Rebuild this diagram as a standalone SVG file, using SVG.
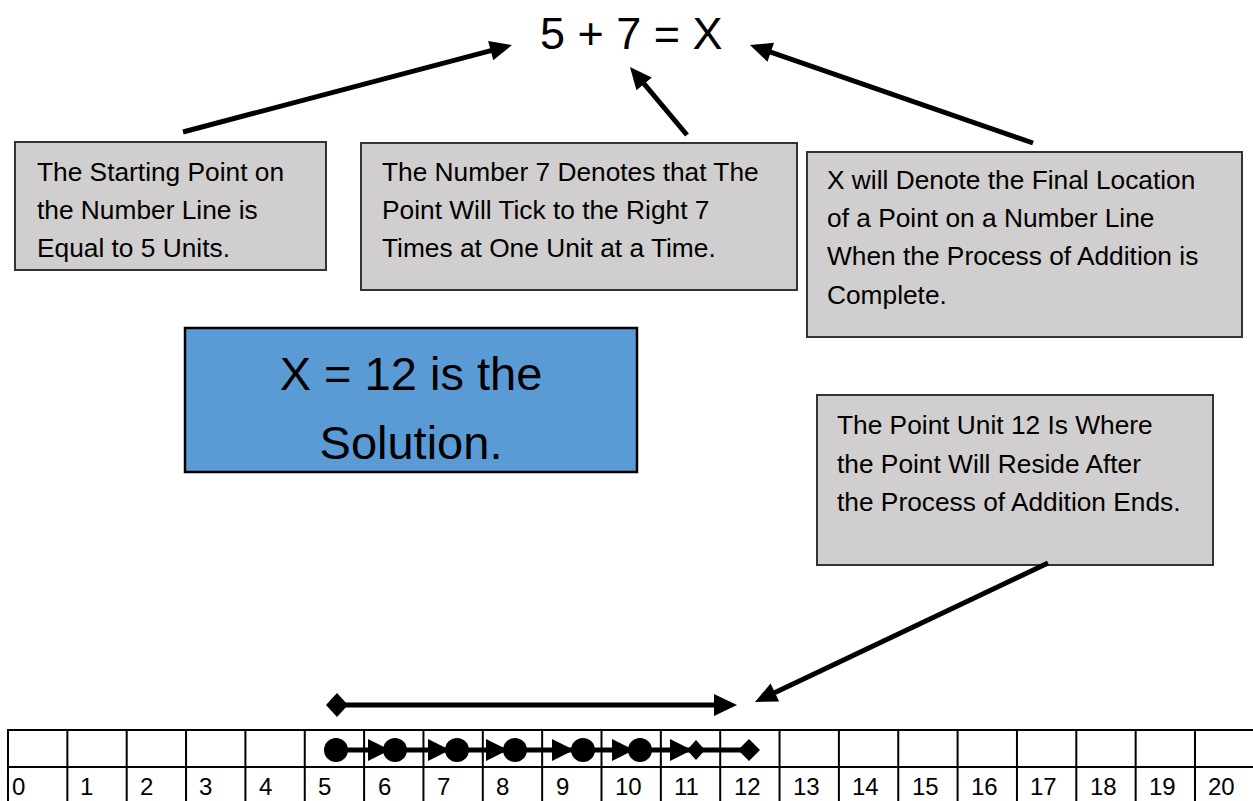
<svg xmlns="http://www.w3.org/2000/svg" width="1253" height="801" viewBox="0 0 1253 801">
<style>
.box{fill:#d0cece;stroke:#333;stroke-width:2}
.sol{fill:#5b9bd5;stroke:#000;stroke-width:2.5}
.t{font-family:"Liberation Sans",Arial,sans-serif;font-size:26.3px;fill:#000}
.big{font-family:"Liberation Sans",Arial,sans-serif;font-size:47px;fill:#000;text-anchor:middle}
.eq{font-family:"Liberation Sans",Arial,sans-serif;font-size:45px;fill:#000}
.num{font-family:"Liberation Sans",Arial,sans-serif;font-size:24px;fill:#000}
.grid line{stroke:#000;stroke-width:2}
.conn{stroke:#000;stroke-width:5;fill:none}
.chain{stroke:#000;stroke-width:5;fill:none}
</style>
<defs>
<marker id="ah" markerUnits="userSpaceOnUse" markerWidth="22" markerHeight="20" refX="12" refY="10" orient="auto" overflow="visible"><path d="M0,0 L22,10 L0,20 z" fill="#000"/></marker>
<marker id="ahb" markerUnits="userSpaceOnUse" markerWidth="23" markerHeight="22" refX="13" refY="11" orient="auto" overflow="visible"><path d="M0,0 L23,11 L0,22 z" fill="#000"/></marker>
<marker id="dia" markerUnits="userSpaceOnUse" markerWidth="22" markerHeight="24" refX="11" refY="12" orient="auto" overflow="visible"><path d="M0,12 L11,0 L22,12 L11,24 z" fill="#000"/></marker>
<marker id="dot" markerUnits="userSpaceOnUse" markerWidth="24" markerHeight="24" refX="12" refY="12" orient="auto" overflow="visible"><circle cx="12" cy="12" r="12" fill="#000"/></marker>
<marker id="tri" markerUnits="userSpaceOnUse" markerWidth="22" markerHeight="22" refX="22" refY="11" orient="auto" overflow="visible"><path d="M0,0 L22,11 L0,22 z" fill="#000"/></marker>
<marker id="sdia" markerUnits="userSpaceOnUse" markerWidth="18" markerHeight="20" refX="9" refY="10" orient="auto" overflow="visible"><path d="M0,10 L9,0 L18,10 L9,20 z" fill="#000"/></marker>
<marker id="bdia" markerUnits="userSpaceOnUse" markerWidth="22" markerHeight="22" refX="11" refY="11" orient="auto" overflow="visible"><path d="M0,11 L11,0 L22,11 L11,22 z" fill="#000"/></marker>
</defs>
<rect width="1253" height="801" fill="#fff"/>

<g id="equation">
<text class="eq" x="540" y="49">5 + 7 = X</text>
</g>

<g id="node-start">
<rect class="box" x="15" y="142" width="311" height="128"/>
<text class="t" x="37" y="181">The Starting Point on</text>
<text class="t" x="37" y="219">the Number Line is</text>
<text class="t" x="37" y="257">Equal to 5 Units.</text>
</g>

<g id="node-seven">
<rect class="box" x="361" y="143" width="436" height="147"/>
<text class="t" x="382" y="181">The Number 7 Denotes that The</text>
<text class="t" x="382" y="219">Point Will Tick to the Right 7</text>
<text class="t" x="382" y="257">Times at One Unit at a Time.</text>
</g>

<g id="node-x">
<rect class="box" x="807" y="152" width="435" height="185"/>
<text class="t" x="827" y="189">X will Denote the Final Location</text>
<text class="t" x="827" y="227">of a Point on a Number Line</text>
<text class="t" x="827" y="265">When the Process of Addition is</text>
<text class="t" x="827" y="304">Complete.</text>
</g>

<g id="node-solution">
<rect class="sol" x="185" y="328" width="452" height="144"/>
<text class="big" x="411" y="390">X = 12 is the</text>
<text class="big" x="411" y="459">Solution.</text>
</g>

<g id="node-point12">
<rect class="box" x="817" y="395" width="396" height="170"/>
<text class="t" x="837" y="434">The Point Unit 12 Is Where</text>
<text class="t" x="837" y="473">the Point Will Reside After</text>
<text class="t" x="837" y="511">the Process of Addition Ends.</text>
</g>

<g id="node-numberline">
<g class="grid">
<line x1="7" y1="730" x2="1260" y2="730"/>
<line x1="7" y1="767" x2="1260" y2="767"/>
<line x1="8" y1="729" x2="8" y2="801"/>
<line x1="67.35" y1="729" x2="67.35" y2="801"/>
<line x1="126.7" y1="729" x2="126.7" y2="801"/>
<line x1="186.05" y1="729" x2="186.05" y2="801"/>
<line x1="245.4" y1="729" x2="245.4" y2="801"/>
<line x1="304.75" y1="729" x2="304.75" y2="801"/>
<line x1="364.1" y1="729" x2="364.1" y2="801"/>
<line x1="423.45" y1="729" x2="423.45" y2="801"/>
<line x1="482.8" y1="729" x2="482.8" y2="801"/>
<line x1="542.15" y1="729" x2="542.15" y2="801"/>
<line x1="601.5" y1="729" x2="601.5" y2="801"/>
<line x1="660.85" y1="729" x2="660.85" y2="801"/>
<line x1="720.2" y1="729" x2="720.2" y2="801"/>
<line x1="779.55" y1="729" x2="779.55" y2="801"/>
<line x1="838.9" y1="729" x2="838.9" y2="801"/>
<line x1="898.25" y1="729" x2="898.25" y2="801"/>
<line x1="957.6" y1="729" x2="957.6" y2="801"/>
<line x1="1016.95" y1="729" x2="1016.95" y2="801"/>
<line x1="1076.3" y1="729" x2="1076.3" y2="801"/>
<line x1="1135.65" y1="729" x2="1135.65" y2="801"/>
<line x1="1195" y1="729" x2="1195" y2="801"/>
</g>
<text class="num" x="12" y="795">0</text>
<text class="num" x="80" y="795">1</text>
<text class="num" x="140" y="795">2</text>
<text class="num" x="199" y="795">3</text>
<text class="num" x="259" y="795">4</text>
<text class="num" x="318" y="795">5</text>
<text class="num" x="378" y="795">6</text>
<text class="num" x="437" y="795">7</text>
<text class="num" x="496" y="795">8</text>
<text class="num" x="556" y="795">9</text>
<text class="num" x="615" y="795">10</text>
<text class="num" x="674" y="795">11</text>
<text class="num" x="734" y="795">12</text>
<text class="num" x="793" y="795">13</text>
<text class="num" x="852" y="795">14</text>
<text class="num" x="912" y="795">15</text>
<text class="num" x="971" y="795">16</text>
<text class="num" x="1030" y="795">17</text>
<text class="num" x="1090" y="795">18</text>
<text class="num" x="1149" y="795">19</text>
<text class="num" x="1208" y="795">20</text>
</g>

<g id="connectors">
<line class="conn" x1="183" y1="132" x2="502.3" y2="47.6" marker-end="url(#ah)"/>
<line class="conn" x1="687" y1="135" x2="636.4" y2="74.7" marker-end="url(#ah)"/>
<line class="conn" x1="1033" y1="143" x2="759.4" y2="48.3" marker-end="url(#ah)"/>
<line class="conn" x1="1048" y1="563" x2="764" y2="697.7" marker-end="url(#ah)"/>
<line class="conn" x1="337" y1="705" x2="727" y2="705" stroke-width="6" marker-start="url(#dia)" marker-end="url(#ahb)"/>
<line class="chain" x1="336" y1="750" x2="390" y2="750" marker-start="url(#dot)" marker-end="url(#tri)"/>
<line class="chain" x1="395" y1="750" x2="450" y2="750" marker-start="url(#dot)" marker-end="url(#tri)"/>
<line class="chain" x1="457" y1="750" x2="508" y2="750" marker-start="url(#dot)" marker-end="url(#tri)"/>
<line class="chain" x1="515" y1="750" x2="574" y2="750" marker-start="url(#dot)" marker-end="url(#tri)"/>
<line class="chain" x1="583" y1="750" x2="634" y2="750" marker-start="url(#dot)" marker-end="url(#tri)"/>
<line class="chain" x1="640" y1="750" x2="692" y2="750" marker-start="url(#dot)" marker-end="url(#tri)"/>
<line class="chain" x1="696" y1="750" x2="749" y2="750" marker-start="url(#sdia)" marker-end="url(#bdia)"/>
</g>
</svg>
